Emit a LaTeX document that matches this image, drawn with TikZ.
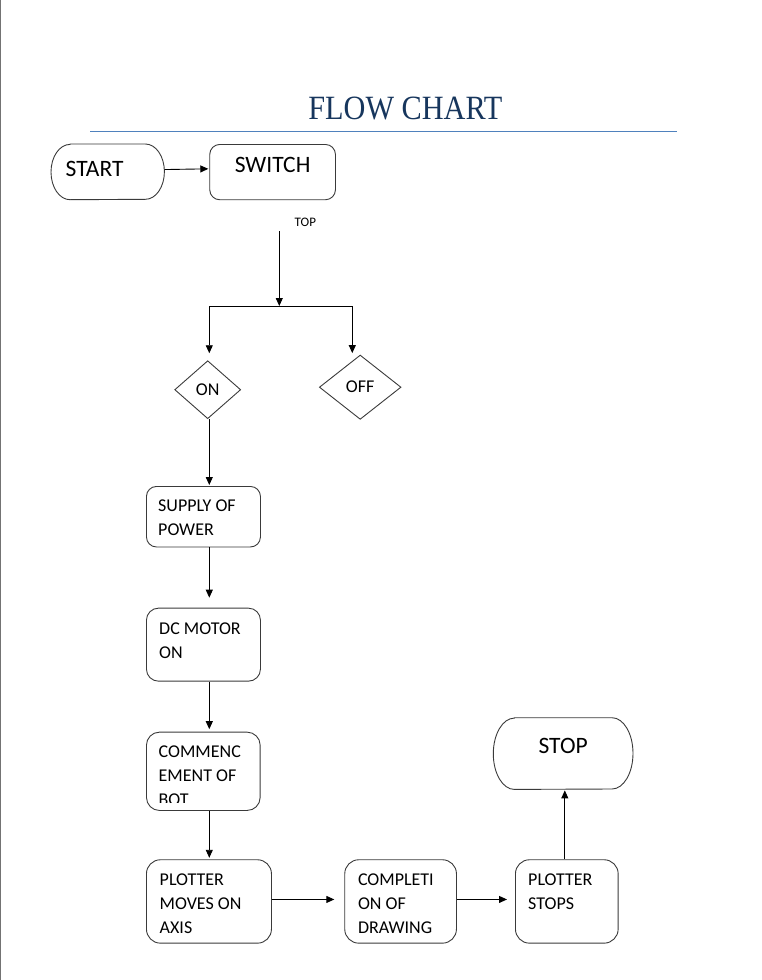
\documentclass[tikz,border=0pt]{standalone}
\usepackage{fontspec}
\setmainfont{Carlito}
\newfontfamily\titlefont[FakeStretch=0.89]{Liberation Serif}
\usepackage{xcolor}
\usetikzlibrary{arrows.meta,positioning,shapes.geometric}
\definecolor{titleblue}{HTML}{17365D}
\definecolor{ruleblue}{HTML}{4F81BD}
\definecolor{edge}{HTML}{3A3A3A}

\begin{document}
\begin{tikzpicture}[
  x=1pt, y=1pt,
  font=\fontsize{18pt}{24pt}\selectfont,
  box/.style={rectangle, draw=edge, line width=0.9pt, rounded corners=#1, anchor=north west, inner sep=0pt},
  box/.default=10pt,
  term/.style={rectangle, anchor=north west, inner sep=0pt},
  outline/.style={draw=edge, line width=0.9pt},
  dec/.style={diamond, draw=edge, line width=0.9pt, inner sep=0pt},
  txt/.style={anchor=north west, inner sep=0pt, align=left},
  big/.style={font=\fontsize{23.5pt}{28pt}\selectfont},
  link/.style={line width=0.9pt},
  arr/.style={-{Triangle[length=8pt,width=7pt]}, line width=0.9pt}
]
  \useasboundingbox (0,0) rectangle (762,-980);
  \draw[black!55, line width=1.2pt] (0.6,0) -- (0.6,-980);

  % title
  \node[txt, font=\titlefont\fontsize{34pt}{40pt}\selectfont, text=titleblue] (title) at (308.2,-96.3) {FLOW CHART};
  \draw[ruleblue, line width=0.8pt] (90,-131) -- (677,-131);

  % top row
  \node[term, minimum width=113pt, minimum height=55.3pt] (start) at (51,-144) {};
  \draw[outline] ([xshift=19pt]start.north west) -- ([xshift=-19pt]start.north east)
    arc[start angle=90, end angle=-90, x radius=19pt, y radius=27.65pt]
    -- ([xshift=19pt]start.south west)
    arc[start angle=270, end angle=90, x radius=19pt, y radius=27.65pt] -- cycle;
  \node[txt, big, below right=17.5pt and 14.5pt of start.north west] (starttxt) {START};
  \node[box, minimum width=125.7pt, minimum height=55.3pt] (switch) at (209.3,-144) {};
  \node[txt, big, below=13.5pt of switch.north] (switchtxt) {SWITCH};
  \node[txt, font=\fontsize{13pt}{15pt}\selectfont] (toptxt) at (294.5,-218) {TOP};

  % switch states
  \node[dec, minimum width=66pt, minimum height=58pt] (swon) at (207.7,-389.7) {ON};
  \node[dec, minimum width=81.7pt, minimum height=64.3pt] (swoff) at (360.2,-387.2) {OFF};

  % main column
  \node[box, minimum width=114pt, minimum height=60.5pt] (supply) at (146,-486) {};
  \node[txt, below right=13.3pt and 12pt of supply.north west] (supplytxt) {SUPPLY OF\\POWER};
  \node[box=12pt, minimum width=114pt, minimum height=73pt] (motor) at (146,-607.7) {};
  \node[txt, below right=15pt and 13pt of motor.north west] (motortxt) {DC MOTOR\\ON};
  \node[box=13pt, minimum width=113.7pt, minimum height=78.3pt] (bot) at (146,-731.7) {};
  \begin{scope}
    \clip (bot.north west) rectangle ([yshift=8pt]bot.south east);
    \node[txt, below right=14.3pt and 12.5pt of bot.north west] (bottxt) {COMMENC\\EMENT OF\\BOT};
  \end{scope}

  % bottom row
  \node[box=14pt, minimum width=125pt, minimum height=83.4pt] (moves) at (146,-859.3) {};
  \node[txt, below right=14pt and 13.5pt of moves.north west] (movestxt) {PLOTTER\\MOVES ON\\AXIS};
  \node[box=14pt, minimum width=111.7pt, minimum height=83.4pt] (done) at (344.3,-859.3) {};
  \node[txt, below right=14pt and 13.5pt of done.north west] (donetxt) {COMPLETI\\ON OF\\DRAWING};
  \node[box=14pt, minimum width=102.7pt, minimum height=83.4pt] (stops) at (515,-859.3) {};
  \node[txt, below right=14pt and 13pt of stops.north west] (stopstxt) {PLOTTER\\STOPS};
  \node[term, minimum width=139.3pt, minimum height=71.3pt] (stop) at (493.3,-717.7) {};
  \draw[outline] ([xshift=21pt]stop.north west) -- ([xshift=-21pt]stop.north east)
    arc[start angle=90, end angle=-90, x radius=21pt, y radius=35.65pt]
    -- ([xshift=21pt]stop.south west)
    arc[start angle=270, end angle=90, x radius=21pt, y radius=35.65pt] -- cycle;
  \node[txt, big, below=20.3pt of stop.north] (stoptxt) {STOP};

  % connectors
  \coordinate (spine) at (209.3,0);
  \coordinate (topend) at (279.3,-231);
  \coordinate (fork) at (279.3,-306);
  \coordinate (forkl) at (209.3,-306);
  \coordinate (forkr) at (352.3,-306);
  \draw[arr, shorten >=1pt] ([yshift=2.3pt]start.east) -- ([yshift=3.3pt]switch.west);
  \draw[arr] (topend) -- (fork);
  \draw[link] (forkl) -- (forkr);
  \draw[arr, shorten >=7pt] (forkl) -- (forkl |- swon.north);
  \draw[arr, shorten >=1.5pt] (forkr) -- (forkr |- swoff.north);
  \draw[arr, shorten >=1pt] (swon.south -| spine) -- (supply.north -| spine);
  \draw[arr, shorten >=10pt] (supply.south -| spine) -- (motor.north -| spine);
  \draw[arr, shorten >=2.5pt] (motor.south -| spine) -- (bot.north -| spine);
  \draw[arr, shorten >=1.5pt] (bot.south -| spine) -- (moves.north -| spine);
  \draw[arr, shorten >=10pt] ([yshift=2pt]moves.east) -- ([yshift=2pt]done.west);
  \draw[arr, shorten >=8pt] ([yshift=2pt]done.east) -- ([yshift=2pt]stops.west);
  \draw[arr, shorten >=1pt] ([xshift=-2pt]stops.north) -- ([xshift=-2pt]stops.north |- stop.south);
\end{tikzpicture}
\end{document}
